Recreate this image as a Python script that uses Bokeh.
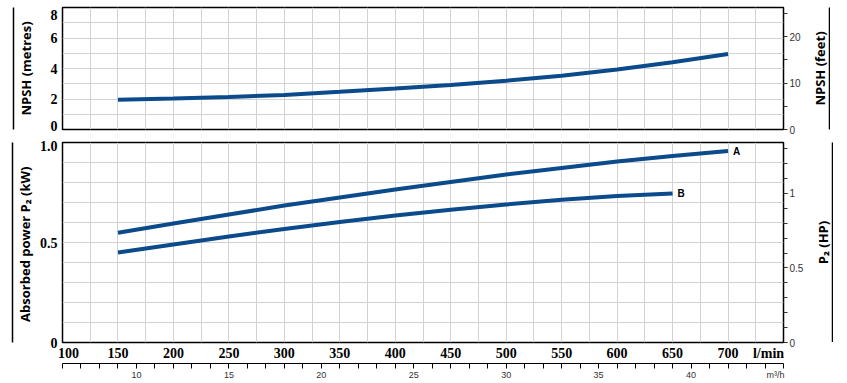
from bokeh.plotting import figure
from bokeh.models import Range1d, LinearAxis, FixedTicker, NumeralTickFormatter
from bokeh.core.properties import value
from bokeh.layouts import column, row
from bokeh.embed import file_html
from bokeh.resources import INLINE

# ---- data ----
flow_lmin = [150, 200, 250, 300, 350, 400, 450, 500, 550, 600, 650, 700]
npsh_m = [1.95, 2.03, 2.13, 2.27, 2.47, 2.69, 2.92, 3.20, 3.53, 3.93, 4.41, 4.95]
flow_B = [150, 200, 250, 300, 350, 400, 450, 500, 550, 600, 650]
power_A = [0.549, 0.595, 0.640, 0.685, 0.725, 0.765, 0.803, 0.840, 0.873, 0.905, 0.932, 0.957]
power_B = [0.450, 0.490, 0.530, 0.568, 0.603, 0.635, 0.664, 0.690, 0.714, 0.732, 0.745]
curve_names = ["A", "B"]

lmin_ticks = [100, 150, 200, 250, 300, 350, 400, 450, 500, 550, 600, 650, 700]
lmin_unit_label = "l/min"
lmin_grid = [100 + 25 * i for i in range(27)]
m3h_ticks = [10, 15, 20, 25, 30, 35, 40]
m3h_minor = list(range(6, 46))
m3h_unit_label = "m\u00b3/h"
npsh_m_ticks = [0, 2, 4, 6, 8]
npsh_m_grid = list(range(0, 9))
npsh_ft_ticks = [0, 10, 20]
npsh_ft_minor = [5, 15, 25]
kw_ticks = [0, 0.5, 1.0]
kw_tick_labels = ["0", "0.5", "1.0"]
kw_grid = [i / 10 for i in range(11)]
hp_ticks = [0, 0.5, 1]
hp_minor = [i / 10 for i in range(14)]

M_TO_FT = 3.2808
KW_TO_HP = 1 / 0.7457
LMIN_PER_M3H = 1000 / 60

BLUE = "#0b4a8b"
GRID = "#d2d2d2"
TICK_FONT = "Liberation Sans Narrow"
SMALL_FONT = "Liberation Sans"
LABEL_FONT = "Open Sans"

XMIN, XMAX = 100, 750
FRAME_W = 721
TOP_H, BOT_H = 122, 200
NPSH_MAX, KW_MAX = 8, 1.0
PX_PER_LMIN = FRAME_W / (XMAX - XMIN)
PX_PER_M3H = PX_PER_LMIN * LMIN_PER_M3H
PX_PER_M = TOP_H / NPSH_MAX
PX_PER_KW = BOT_H / KW_MAX

MAIN_LEFT, MAIN_RIGHT = 62, 20
LBL_LEFT = 26


def style_common(p):
    p.outline_line_color = "black"
    p.outline_line_width = 1.5
    p.outline_line_alpha = 1
    p.xgrid.ticker = FixedTicker(ticks=lmin_grid)
    p.xgrid.grid_line_color = GRID
    p.ygrid.grid_line_color = GRID
    p.background_fill_color = "white"
    p.border_fill_color = "white"


def deco_axis(p, side):
    ax = LinearAxis(ticker=FixedTicker(ticks=[]), axis_line_color="black",
                    axis_line_width=1.5, major_tick_out=0, major_tick_in=0,
                    minor_tick_out=0, minor_tick_in=0)
    p.add_layout(ax, side)
    return ax


def style_left(ax, label, standoff):
    ax.axis_line_color = None
    ax.major_tick_out = 0
    ax.major_tick_in = 0
    ax.minor_tick_out = 0
    ax.minor_tick_in = 0
    ax.major_label_standoff = 5
    ax.major_label_text_font = TICK_FONT
    ax.major_label_text_font_style = "bold"
    ax.major_label_text_font_size = "14px"
    ax.major_label_text_color = "black"
    ax.axis_label = label
    ax.axis_label_text_font = LABEL_FONT
    ax.axis_label_text_font_style = "bold"
    ax.axis_label_text_font_size = "13px"
    ax.axis_label_text_color = "black"
    ax.axis_label_standoff = standoff


def right_axis(ticks, minor, fmt=None):
    ax = LinearAxis(y_range_name="right", ticker=FixedTicker(ticks=ticks, minor_ticks=minor),
                    axis_line_color=None, major_tick_out=4, major_tick_in=0,
                    minor_tick_out=4, minor_tick_in=0, major_tick_line_color="#333333",
                    minor_tick_line_color="#333333",
                    major_label_standoff=2, major_label_text_font=SMALL_FONT,
                    major_label_text_font_size="10px", major_label_text_color="#333333")
    if fmt is not None:
        ax.formatter = fmt
    return ax


def label_strip(text, frame_h, border_top, border_bottom):
    """Narrow figure whose left axis carries the right-hand axis title and its rule."""
    f = figure(frame_width=1, frame_height=frame_h, min_border_left=LBL_LEFT, min_border_right=0,
               min_border_top=border_top, min_border_bottom=border_bottom,
               x_range=Range1d(0, 1), y_range=Range1d(0, 1),
               output_backend="svg", toolbar_location=None)
    f.outline_line_color = None
    f.xaxis.visible = False
    f.xgrid.visible = False
    f.ygrid.visible = False
    f.background_fill_color = "white"
    f.border_fill_color = "white"
    ax = f.yaxis[0]
    ax.ticker = FixedTicker(ticks=[])
    ax.axis_line_color = "black"
    ax.axis_line_width = 1.5
    ax.major_tick_out = 0
    ax.minor_tick_out = 0
    ax.axis_label = text
    ax.axis_label_text_font = LABEL_FONT
    ax.axis_label_text_font_style = "bold"
    ax.axis_label_text_font_size = "13px"
    ax.axis_label_text_color = "black"
    ax.axis_label_standoff = 1
    return f


# ================= top: NPSH =================
top = figure(frame_width=FRAME_W, frame_height=TOP_H, min_border_left=MAIN_LEFT,
             min_border_right=MAIN_RIGHT, min_border_top=7, min_border_bottom=7,
             x_range=Range1d(XMIN, XMAX), y_range=Range1d(0, NPSH_MAX),
             output_backend="svg", toolbar_location=None)
top.extra_y_ranges = {"right": Range1d(0, NPSH_MAX * M_TO_FT)}
style_common(top)
top.xaxis.visible = False
top.ygrid.ticker = FixedTicker(ticks=npsh_m_grid)

top.line(flow_lmin, npsh_m, line_color=BLUE, line_width=4)

ly = top.yaxis[0]
y_lo = npsh_m_ticks[0] + 4 / PX_PER_M
y_hi = npsh_m_ticks[-1] - 7 / PX_PER_M
ly.ticker = FixedTicker(ticks=[y_lo] + npsh_m_ticks[1:-1] + [y_hi])
ly.major_label_overrides = {y_lo: str(npsh_m_ticks[0]), y_hi: str(npsh_m_ticks[-1])}
style_left(ly, "NPSH (metres)", 13)
deco_axis(top, "left")

top.add_layout(right_axis(npsh_ft_ticks, npsh_ft_minor), "right")
top_lbl = label_strip("NPSH (feet)", TOP_H, 7, 7)

# ================= bottom: power =================
bot = figure(frame_width=FRAME_W, frame_height=BOT_H, min_border_left=MAIN_LEFT,
             min_border_right=MAIN_RIGHT, min_border_top=6, min_border_bottom=0,
             x_range=Range1d(XMIN, XMAX), y_range=Range1d(0, KW_MAX),
             output_backend="svg", toolbar_location=None)
bot.extra_y_ranges = {"right": Range1d(0, KW_MAX * KW_TO_HP)}
bot.extra_x_ranges = {"m3h": Range1d(XMIN / LMIN_PER_M3H, XMAX / LMIN_PER_M3H)}
style_common(bot)
bot.ygrid.ticker = FixedTicker(ticks=kw_grid)

bot.line(flow_lmin, power_A, line_color=BLUE, line_width=4)
bot.line(flow_B, power_B, line_color=BLUE, line_width=4)
bot.text(x=[flow_lmin[-1], flow_B[-1]], y=[power_A[-1], power_B[-1]], text=curve_names,
         x_offset=5, text_baseline="middle", text_font=value(SMALL_FONT),
         text_font_style="bold", text_font_size="10px", text_color="black")

by = bot.yaxis[0]
kw_hi = kw_ticks[-1] - 3 / PX_PER_KW
by.ticker = FixedTicker(ticks=kw_ticks[:-1] + [kw_hi])
by.major_label_overrides = {kw_ticks[0]: kw_tick_labels[0], kw_ticks[1]: kw_tick_labels[1],
                            kw_hi: kw_tick_labels[2]}
style_left(by, "Absorbed power  P\u2082 (kW)", 3)
deco_axis(bot, "left")

bot.add_layout(right_axis(hp_ticks, hp_minor, NumeralTickFormatter(format="0.[0]")), "right")

first_pos = XMIN + 6 / PX_PER_LMIN
lmin_unit_pos = XMAX - 15 / PX_PER_LMIN
bx = bot.xaxis[0]
bx.ticker = FixedTicker(ticks=[first_pos] + lmin_ticks[1:] + [lmin_unit_pos])
bx.major_label_overrides = {first_pos: str(lmin_ticks[0]), lmin_unit_pos: lmin_unit_label}
bx.axis_line_color = None
bx.major_tick_out = 0
bx.major_tick_in = 0
bx.minor_tick_out = 0
bx.minor_tick_in = 0
bx.major_label_standoff = 3
bx.major_label_text_font = TICK_FONT
bx.major_label_text_font_style = "bold"
bx.major_label_text_font_size = "14px"
bx.major_label_text_color = "black"

m3h_unit_pos = XMAX / LMIN_PER_M3H - 8 / PX_PER_M3H
mx = LinearAxis(x_range_name="m3h",
                ticker=FixedTicker(ticks=m3h_ticks + [m3h_unit_pos], minor_ticks=m3h_minor),
                major_label_overrides={m3h_unit_pos: m3h_unit_label},
                axis_line_color="black", axis_line_width=1.2,
                major_tick_out=5, major_tick_in=0, minor_tick_out=5, minor_tick_in=0,
                major_tick_line_color=None, minor_tick_line_color="black",
                major_label_standoff=1, major_label_text_font=SMALL_FONT,
                major_label_text_font_size="9px", major_label_text_color="#333333")
bot.add_layout(mx, "below")

# label strip for the power chart: same height as the bottom figure's frame area
bot_lbl = label_strip("P\u2082 (HP)", BOT_H, 6, 0)

layout = column(row(top, top_lbl, spacing=0), row(bot, bot_lbl, spacing=0), spacing=0)
open("out.html", "w").write(file_html(layout, INLINE))
